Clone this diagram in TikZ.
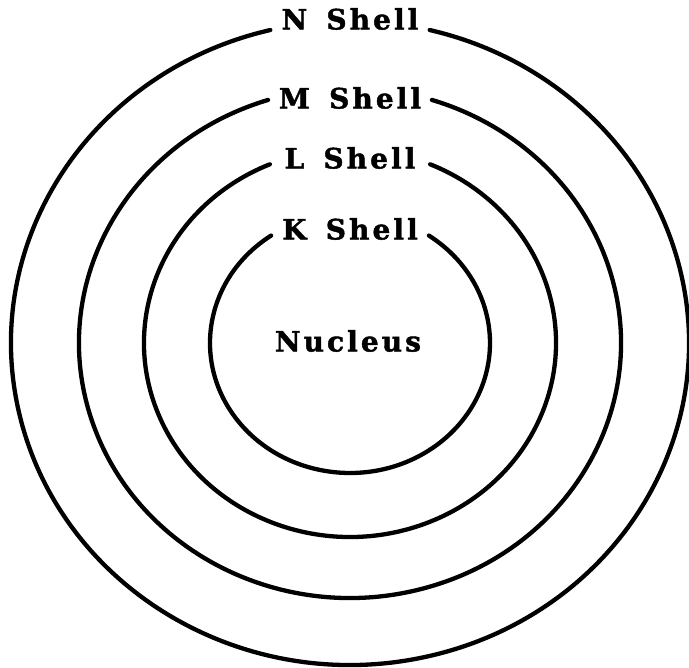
\documentclass[tikz,border=0pt]{standalone}
\usepackage{fontspec}
\usepackage{tikz}
\usetikzlibrary{calc}
\newfontfamily\shellfont[LetterSpace=11,WordSpace=1.5,FakeBold=1.6]{DejaVu Serif}

\begin{document}
\begin{tikzpicture}[
    x=1pt, y=1pt,
    shell/.style={line width=4.3pt, black, line cap=round},
    shelllabel/.style={
        inner sep=0pt, font=\shellfont\bfseries\fontsize{28}{32}\selectfont
    }
]
\useasboundingbox (0,0) rectangle (689,668);
\coordinate (c) at (350,325);

% shells: name / x radius / y radius / half gap (deg) / label height / label
\foreach \nm/\rx/\ry/\d/\ty/\txt in {
    nshell/339/322/13.6/649/N Shell,
    mshell/271/255/17.6/570/M Shell,
    lshell/206/194/22.9/510/L Shell,
    kshell/140/130/34.3/439/K Shell}
{
  \node[shelllabel] (\nm) at (350,\ty) {\txt};
  \draw[shell] ($(c)+({\rx*cos(90+\d)},{\ry*sin(90+\d)})$)
    arc[start angle=90+\d, end angle=450-\d,
        x radius=\rx pt, y radius=\ry pt];
}

\node[shelllabel] (nucleus) at (348,327) {Nucleus};
\end{tikzpicture}
\end{document}
